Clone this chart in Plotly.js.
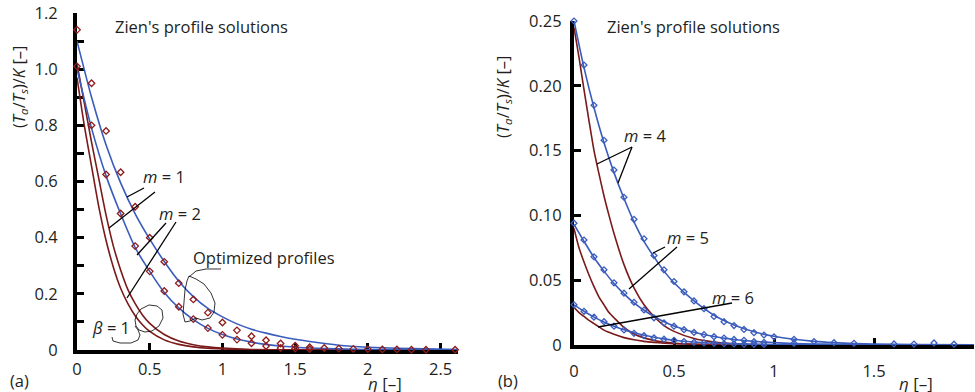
<!DOCTYPE html>
<html><head><meta charset="utf-8">
<script src="https://cdn.plot.ly/plotly-3.0.1.min.js"></script>
<style>html,body{margin:0;padding:0;background:#fff}#c{width:975px;height:392px}</style>
</head><body><div id="c"></div>
<script>
// ---------- Panel (a) data ----------
const aCurveX = [0,0.1,0.2,0.3,0.4,0.5,0.6,0.7,0.8,0.9,1.0,1.1,1.2,1.3,1.4,1.5,1.6,1.8,2.0,2.2,2.4,2.62];
const aBlueM1 = [1.10,0.90,0.73,0.595,0.485,0.395,0.315,0.245,0.19,0.148,0.118,0.093,0.074,0.06,0.048,0.038,0.03,0.017,0.01,0.006,0.004,0.002];
const aBlueM2 = [1.0,0.79,0.62,0.485,0.365,0.28,0.205,0.15,0.108,0.077,0.055,0.039,0.028,0.02,0.014,0.01,0.007,0.004,0.002,0.001,0.0005,0.0003];
const aBrownX = [0,0.05,0.1,0.15,0.2,0.25,0.3,0.35,0.4,0.45,0.5,0.6,0.7,0.8,0.9,1.0,1.2,1.5,2.0,2.62];
const aBrownM1 = [1.02,0.88,0.74,0.61,0.48,0.37,0.285,0.215,0.165,0.125,0.095,0.055,0.032,0.019,0.011,0.0065,0.002,0.0005,0.0001,0];
const aBrownM2 = [0.97,0.80,0.655,0.51,0.39,0.295,0.22,0.165,0.122,0.09,0.066,0.036,0.02,0.011,0.006,0.0035,0.001,0.0002,0,0];
const aMarkX1 = [0,0.1,0.2,0.3,0.4,0.5,0.6,0.7,0.8,0.9,1.0,1.1,1.2,1.3,1.4,1.5,1.6,1.7,1.8,1.9,2.0,2.1,2.2,2.3,2.4,2.6];
const aMarkY1 = [1.14,0.95,0.78,0.633,0.51,0.40,0.314,0.238,0.18,0.133,0.098,0.07,0.049,0.035,0.023,0.015,0.01,0.007,0.005,0.004,0.003,0.002,0.002,0.001,0.001,0.001];
const aMarkX2 = [0,0.1,0.2,0.3,0.4,0.5,0.6,0.7,0.8,0.9,1.0,1.1,1.2,1.3,1.4,1.5,1.6];
const aMarkY2 = [1.01,0.80,0.625,0.486,0.37,0.28,0.21,0.154,0.11,0.078,0.054,0.037,0.024,0.014,0.007,0.005,0.003];
const aYTickVals = [0,0.2,0.4,0.6,0.8,1.0,1.2];
const aYTickText = ['0','0.2','0.4','0.6','0.8','1.0','1.2'];
const aXTickVals = [0,0.5,1,1.5,2,2.5];
const aXTickText = ['0','0.5','1','1.5','2','2.5'];

// ---------- Panel (b) data ----------
const bCurveX = [0,0.05,0.1,0.15,0.2,0.25,0.3,0.35,0.4,0.45,0.5,0.6,0.7,0.8,0.9,1.0,1.1,1.2,1.3,1.4,1.5,1.7,2.0];
const bBlueM4 = [0.25,0.214,0.183,0.156,0.133,0.113,0.095,0.08,0.068,0.057,0.048,0.034,0.023,0.0155,0.0102,0.0067,0.0044,0.0028,0.0018,0.0011,0.0007,0.0003,0.0001];
const bBlueM5 = [0.093,0.08,0.0675,0.057,0.0475,0.0395,0.0325,0.0268,0.022,0.018,0.0147,0.0098,0.0065,0.0043,0.0028,0.0018,0.0012,0.0008,0.0005,0.0003,0.0002,0.0001,0];
const bBlueM6 = [0.031,0.026,0.0215,0.0177,0.0145,0.0117,0.0094,0.0075,0.006,0.0047,0.0037,0.0023,0.0014,0.0009,0.0005,0.0003,0.0002,0.0001,0,0,0,0,0];
const bBrownX = [0,0.025,0.05,0.075,0.1,0.125,0.15,0.175,0.2,0.25,0.3,0.35,0.4,0.45,0.5,0.6,0.7,0.8,1.0,1.3];
const bBrownM4 = [0.245,0.222,0.197,0.173,0.15,0.132,0.115,0.1,0.086,0.062,0.044,0.031,0.022,0.015,0.0105,0.005,0.0023,0.001,0.0002,0];
const bBrownM5 = [0.09,0.075,0.064,0.054,0.045,0.037,0.031,0.025,0.021,0.0135,0.0085,0.0055,0.0035,0.0022,0.0014,0.0006,0.0003,0.0001,0,0];
const bBrownM6 = [0.029,0.025,0.022,0.019,0.0165,0.014,0.0115,0.0098,0.0082,0.0057,0.004,0.0028,0.002,0.0014,0.001,0.0005,0.0002,0.0001,0,0];
const bMarkX4 = [0,0.05,0.1,0.15,0.2,0.25,0.3,0.35,0.4,0.45,0.5,0.55,0.6,0.65,0.7,0.75,0.8,0.85,0.9,0.95,1.0,1.1,1.2,1.3,1.4,1.6,1.7,1.8,1.9];
const bMarkY4 = [0.25,0.216,0.185,0.158,0.135,0.114,0.097,0.082,0.069,0.058,0.049,0.041,0.034,0.028,0.022,0.018,0.015,0.012,0.0095,0.0077,0.0063,0.0044,0.0027,0.0018,0.0013,0.0008,0.0007,0.0016,0.0006];
const bMarkX5 = [0,0.05,0.1,0.15,0.2,0.25,0.3,0.35,0.4,0.45,0.5,0.55,0.6,0.65,0.7,0.75,0.8,0.85,0.9,0.95,1.1];
const bMarkY5 = [0.094,0.081,0.068,0.058,0.048,0.04,0.033,0.027,0.021,0.017,0.0145,0.0118,0.0097,0.008,0.0064,0.0054,0.0043,0.0036,0.0026,0.0021,0.0013];
const bMarkX6 = [0,0.05,0.1,0.15,0.2,0.25,0.3,0.35,0.4,0.45,0.5,0.55,0.6,0.65,0.7,0.75,0.8,0.85,0.9,0.95];
const bMarkY6 = [0.031,0.026,0.0215,0.018,0.0145,0.0116,0.009,0.0072,0.0056,0.0045,0.0036,0.0027,0.0021,0.0017,0.0013,0.001,0.0008,0.0006,0.0005,0.0004];
const bYTickVals = [0,0.05,0.10,0.15,0.20,0.25];
const bYTickText = ['0','0.05','0.10','0.15','0.20','0.25'];
const bXTickVals = [0,0.5,1,1.5,2];
const bXTickText = ['0','0.5','1','1.5','2'];

// ---------- styling ----------
const W = 975, H = 392;
const X = p => p / W, Y = p => 1 - p / H;
const BLUE = '#3a5cbc', BROWN = '#7a1a1a', RED = '#8e1c1c', TXT = '#231f20';
const FONT = 'Open Sans';

function line(x, y, color, xa, ya) {
  return {x, y, xaxis: xa, yaxis: ya, mode: 'lines', type: 'scatter', line: {color, width: 1.6, shape: 'spline', smoothing: 0.6}, hoverinfo: 'skip', cliponaxis: false};
}
function marks(x, y, color, xa, ya, size) {
  return {x, y, xaxis: xa, yaxis: ya, mode: 'markers', type: 'scatter', marker: {symbol: 'diamond-open', size: size, color, line: {width: 1.3, color}}, hoverinfo: 'skip', cliponaxis: false};
}

const traces = [
  line(aBrownX, aBrownM1, BROWN, 'x', 'y'),
  line(aBrownX, aBrownM2, BROWN, 'x', 'y'),
  line(aCurveX, aBlueM1, BLUE, 'x', 'y'),
  line(aCurveX, aBlueM2, BLUE, 'x', 'y'),
  marks(aMarkX1, aMarkY1, RED, 'x', 'y', 5),
  marks(aMarkX2, aMarkY2, RED, 'x', 'y', 5),
  line(bBrownX, bBrownM4, BROWN, 'x2', 'y2'),
  line(bBrownX, bBrownM5, BROWN, 'x2', 'y2'),
  line(bBrownX, bBrownM6, BROWN, 'x2', 'y2'),
  line(bCurveX, bBlueM4, BLUE, 'x2', 'y2'),
  line(bCurveX, bBlueM5, BLUE, 'x2', 'y2'),
  line(bCurveX, bBlueM6, BLUE, 'x2', 'y2'),
  marks(bMarkX4, bMarkY4, BLUE, 'x2', 'y2', 4.5),
  marks(bMarkX5, bMarkY5, BLUE, 'x2', 'y2', 4.5),
  marks(bMarkX6, bMarkY6, BLUE, 'x2', 'y2', 4.5)
];

const axBase = {showgrid: false, zeroline: false, showline: true, linewidth: 4, linecolor: '#000', ticks: 'inside', tickcolor: '#000', tickwidth: 3, ticklen: 7, tickmode: 'array', tickfont: {family: FONT, size: 16.5, color: TXT}, fixedrange: true, layer: 'below traces'};

function ann(text, x, y, size, extra) {
  return Object.assign({text, xref: 'paper', yref: 'paper', x: X(x), y: Y(y), showarrow: false, xanchor: 'center', yanchor: 'middle', font: {family: FONT, size: size, color: TXT}}, extra || {});
}
function seg(x0, y0, x1, y1, w) {
  return {type: 'line', xref: 'paper', yref: 'paper', x0: X(x0), y0: Y(y0), x1: X(x1), y1: Y(y1), line: {color: '#000', width: w || 1.3}};
}
function poly(pts, w) {
  let d = pts.map((p, i) => (i ? 'L' : 'M') + X(p[0]).toFixed(5) + ',' + Y(p[1]).toFixed(5)).join(' ');
  return {type: 'path', xref: 'paper', yref: 'paper', path: d, line: {color: '#000', width: w || 0.8}};
}

const minorA = {tickvals: [0.1,0.3,0.5,0.7,0.9,1.1], ticks: 'inside', ticklen: 7, tickwidth: 3, tickcolor: '#000', showgrid: false};

const layout = {
  width: W, height: H, margin: {l: 0, r: 0, t: 0, b: 0}, showlegend: false,
  paper_bgcolor: '#fff', plot_bgcolor: 'rgba(0,0,0,0)',
  xaxis: Object.assign({}, axBase, {domain: [X(77), X(458)], range: [0, 2.62], anchor: 'y', tickvals: aXTickVals, ticktext: aXTickText, ticklabelstandoff: 1}),
  yaxis: Object.assign({}, axBase, {domain: [Y(350), Y(13)], range: [0, 1.2], anchor: 'x', tickvals: aYTickVals, ticktext: aYTickText, ticklabelstandoff: 12, minor: minorA}),
  xaxis2: Object.assign({}, axBase, {domain: [X(574), X(974)], range: [0, 2], anchor: 'y2', tickvals: bXTickVals, ticktext: bXTickText, ticklabelstandoff: 8}),
  yaxis2: Object.assign({}, axBase, {domain: [Y(345), Y(21)], range: [0, 0.25], anchor: 'x2', tickvals: bYTickVals, ticktext: bYTickText, ticklabelstandoff: 5}),
  annotations: [
    ann("Zien's profile solutions", 201, 27, 16.5),
    ann("Zien's profile solutions", 693, 27, 16.5),
    ann('(<i>T</i><sub><i>a</i></sub>/<i>T</i><sub><i>s</i></sub>)/<i>K</i> [–]', 19, 87, 16.5, {textangle: -90}),
    ann('(<i>T</i><sub><i>a</i></sub>/<i>T</i><sub><i>s</i></sub>)/<i>K</i> [–]', 503, 97, 16.5, {textangle: -90}),
    ann('<i>η</i> [–]', 385, 383, 17),
    ann('<i>η</i> [–]', 916, 383, 17),
    ann('(a)', 19, 380, 16.5),
    ann('(b)', 508, 380, 16.5),
    ann('<i>m</i> = 1', 164, 177, 16.5),
    ann('<i>m</i> = 2', 180, 213, 16.5),
    ann('Optimized profiles', 264, 257, 16.5),
    ann('<i>β</i> = 1', 111, 327, 16.5),
    ann('<i>m</i> = 4', 645, 136, 16.5),
    ann('<i>m</i> = 5', 688, 237, 16.5),
    ann('<i>m</i> = 6', 733, 297, 16.5)
  ],
  shapes: [
    seg(144, 188, 127, 197), seg(155, 192, 109, 228),
    seg(166, 223, 137, 255), seg(176, 222, 127, 298),
    seg(632, 147, 597, 164), seg(632, 147, 618, 183),
    seg(665, 247, 653, 253), seg(677, 247, 629, 289),
    seg(732, 303, 598, 327),
    poly([[189,276],[196,279],[204,284],[211,293],[215,303],[214,312],[210,318],[202,320],[196,318],[190,321],[185,322],[183,314],[184,302],[185,290],[187,281],[189,276]]),
    poly([[189,277],[196,271],[206,269],[221,269]]),
    poly([[141,309],[149,305],[157,306],[162,310],[163,318],[159,326],[152,331],[145,332],[139,330],[136,326],[135,320],[137,314],[141,309]]),
    poly([[135,326],[138,330],[140,335],[138,340],[131,343],[120,343],[113,341],[112,337]])
  ]
};

Plotly.newPlot('c', traces, layout, {staticPlot: true, displayModeBar: false});
</script></body></html>
